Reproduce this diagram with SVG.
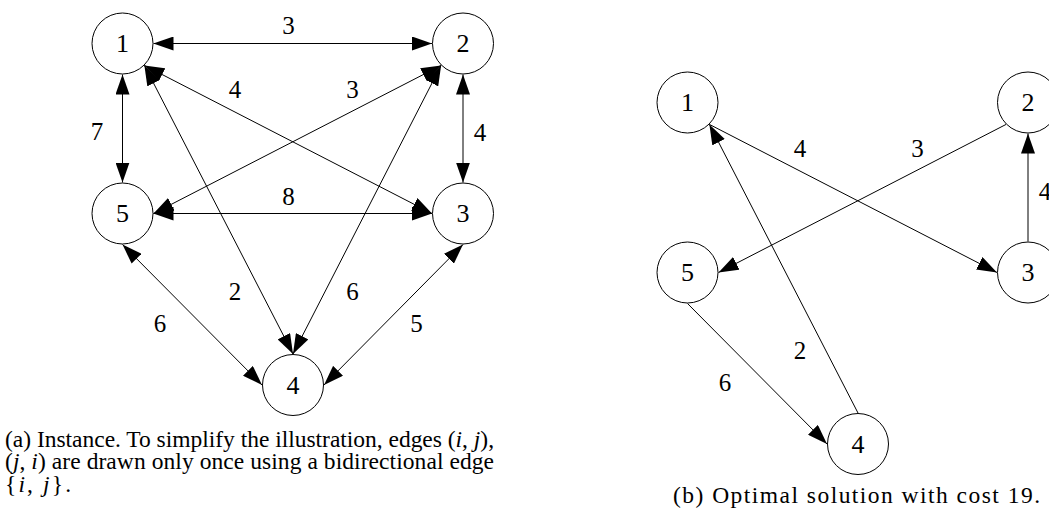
<svg xmlns="http://www.w3.org/2000/svg" width="1049" height="518" viewBox="0 0 1049 518">
<style>
.node circle{fill:#fff;stroke:#000;stroke-width:1}
.node text{font-family:"Liberation Serif",serif;font-size:26px;text-anchor:middle;fill:#000}
.edge{stroke:#000;stroke-width:1;fill:none}
.bi{marker-start:url(#ah);marker-end:url(#ah)}
.uni{marker-end:url(#ah)}
.lbl{font-family:"Liberation Serif",serif;font-size:25px;text-anchor:middle;fill:#000}
.cap{font-family:"Liberation Serif",serif;font-size:23.5px;fill:#000}
.it{font-style:italic}
</style>
<defs>
<marker id="ah" viewBox="0 0 20 14" refX="20" refY="7" markerWidth="20" markerHeight="14" markerUnits="userSpaceOnUse" orient="auto-start-reverse">
<path d="M0,0 L20,7 L0,14 z" fill="#000"/>
</marker>
</defs>
<rect width="1049" height="518" fill="#fff"/>

<!-- (a) instance -->
<g id="a-edges">
<line class="edge bi" x1="153.5" y1="43.5" x2="432" y2="43.5"/>
<line class="edge bi" x1="122.5" y1="74.5" x2="122.5" y2="182.5"/>
<line class="edge bi" x1="463" y1="74.5" x2="463" y2="182.5"/>
<line class="edge bi" x1="153.5" y1="213.5" x2="432" y2="213.5"/>
<line class="edge bi" x1="144.4" y1="65.4" x2="432" y2="213.5"/>
<line class="edge bi" x1="441.1" y1="65.4" x2="153.5" y2="213.5"/>
<line class="edge bi" x1="144.4" y1="65.4" x2="293" y2="354"/>
<line class="edge bi" x1="441.1" y1="65.4" x2="293" y2="354"/>
<line class="edge bi" x1="122.5" y1="244.5" x2="262" y2="385"/>
<line class="edge bi" x1="463" y1="244.5" x2="324" y2="385"/>
</g>
<g id="a-edge-labels">
<text class="lbl" x="288.5" y="34">3</text>
<text class="lbl" x="235" y="98">4</text>
<text class="lbl" x="352.5" y="98">3</text>
<text class="lbl" x="97" y="140">7</text>
<text class="lbl" x="480" y="141">4</text>
<text class="lbl" x="288.5" y="205">8</text>
<text class="lbl" x="235" y="300">2</text>
<text class="lbl" x="352.5" y="300">6</text>
<text class="lbl" x="160" y="332">6</text>
<text class="lbl" x="416.5" y="332">5</text>
</g>
<g id="a-n1" class="node"><circle cx="122.5" cy="43.5" r="30.5"/><text x="122.5" y="52">1</text></g>
<g id="a-n2" class="node"><circle cx="463" cy="43.5" r="30.5"/><text x="463" y="52">2</text></g>
<g id="a-n3" class="node"><circle cx="463" cy="213.5" r="30.5"/><text x="463" y="222">3</text></g>
<g id="a-n4" class="node"><circle cx="293" cy="385" r="30.5"/><text x="293" y="393.5">4</text></g>
<g id="a-n5" class="node"><circle cx="122.5" cy="213.5" r="30.5"/><text x="122.5" y="222">5</text></g>

<!-- (b) optimal solution -->
<g id="b-edges">
<line class="edge uni" x1="709.4" y1="124.4" x2="997" y2="272.5"/>
<line class="edge uni" x1="1006.1" y1="124.4" x2="718.5" y2="272.5"/>
<line class="edge uni" x1="1028" y1="241.5" x2="1028" y2="133.5"/>
<line class="edge uni" x1="687.5" y1="303.5" x2="827" y2="444"/>
<line class="edge uni" x1="858" y1="413" x2="709.4" y2="124.4"/>
</g>
<g id="b-edge-labels">
<text class="lbl" x="800" y="157">4</text>
<text class="lbl" x="917.5" y="157">3</text>
<text class="lbl" x="1045" y="200">4</text>
<text class="lbl" x="800" y="359">2</text>
<text class="lbl" x="725" y="391">6</text>
</g>
<g id="b-n1" class="node"><circle cx="687.5" cy="102.5" r="30.5"/><text x="687.5" y="111">1</text></g>
<g id="b-n2" class="node"><circle cx="1028" cy="102.5" r="30.5"/><text x="1028" y="111">2</text></g>
<g id="b-n3" class="node"><circle cx="1028" cy="272.5" r="30.5"/><text x="1028" y="281">3</text></g>
<g id="b-n4" class="node"><circle cx="858" cy="444" r="30.5"/><text x="858" y="452.5">4</text></g>
<g id="b-n5" class="node"><circle cx="687.5" cy="272.5" r="30.5"/><text x="687.5" y="281">5</text></g>

<!-- captions -->
<g id="captions">
<text class="cap" x="5" y="446.5" textLength="489" lengthAdjust="spacing">(a) Instance. To simplify the illustration, edges (<tspan class="it">i</tspan>, <tspan class="it">j</tspan>),</text>
<text class="cap" x="5" y="469" textLength="489" lengthAdjust="spacing">(<tspan class="it">j</tspan>, <tspan class="it">i</tspan>) are drawn only once using a bidirectional edge</text>
<text class="cap" x="5" y="491.5" textLength="66" lengthAdjust="spacing">{<tspan class="it">i</tspan>, <tspan class="it">j</tspan>}.</text>
<text class="cap" x="673" y="503" font-size="25" textLength="367" lengthAdjust="spacing">(b) Optimal solution with cost 19.</text>
</g>
</svg>
